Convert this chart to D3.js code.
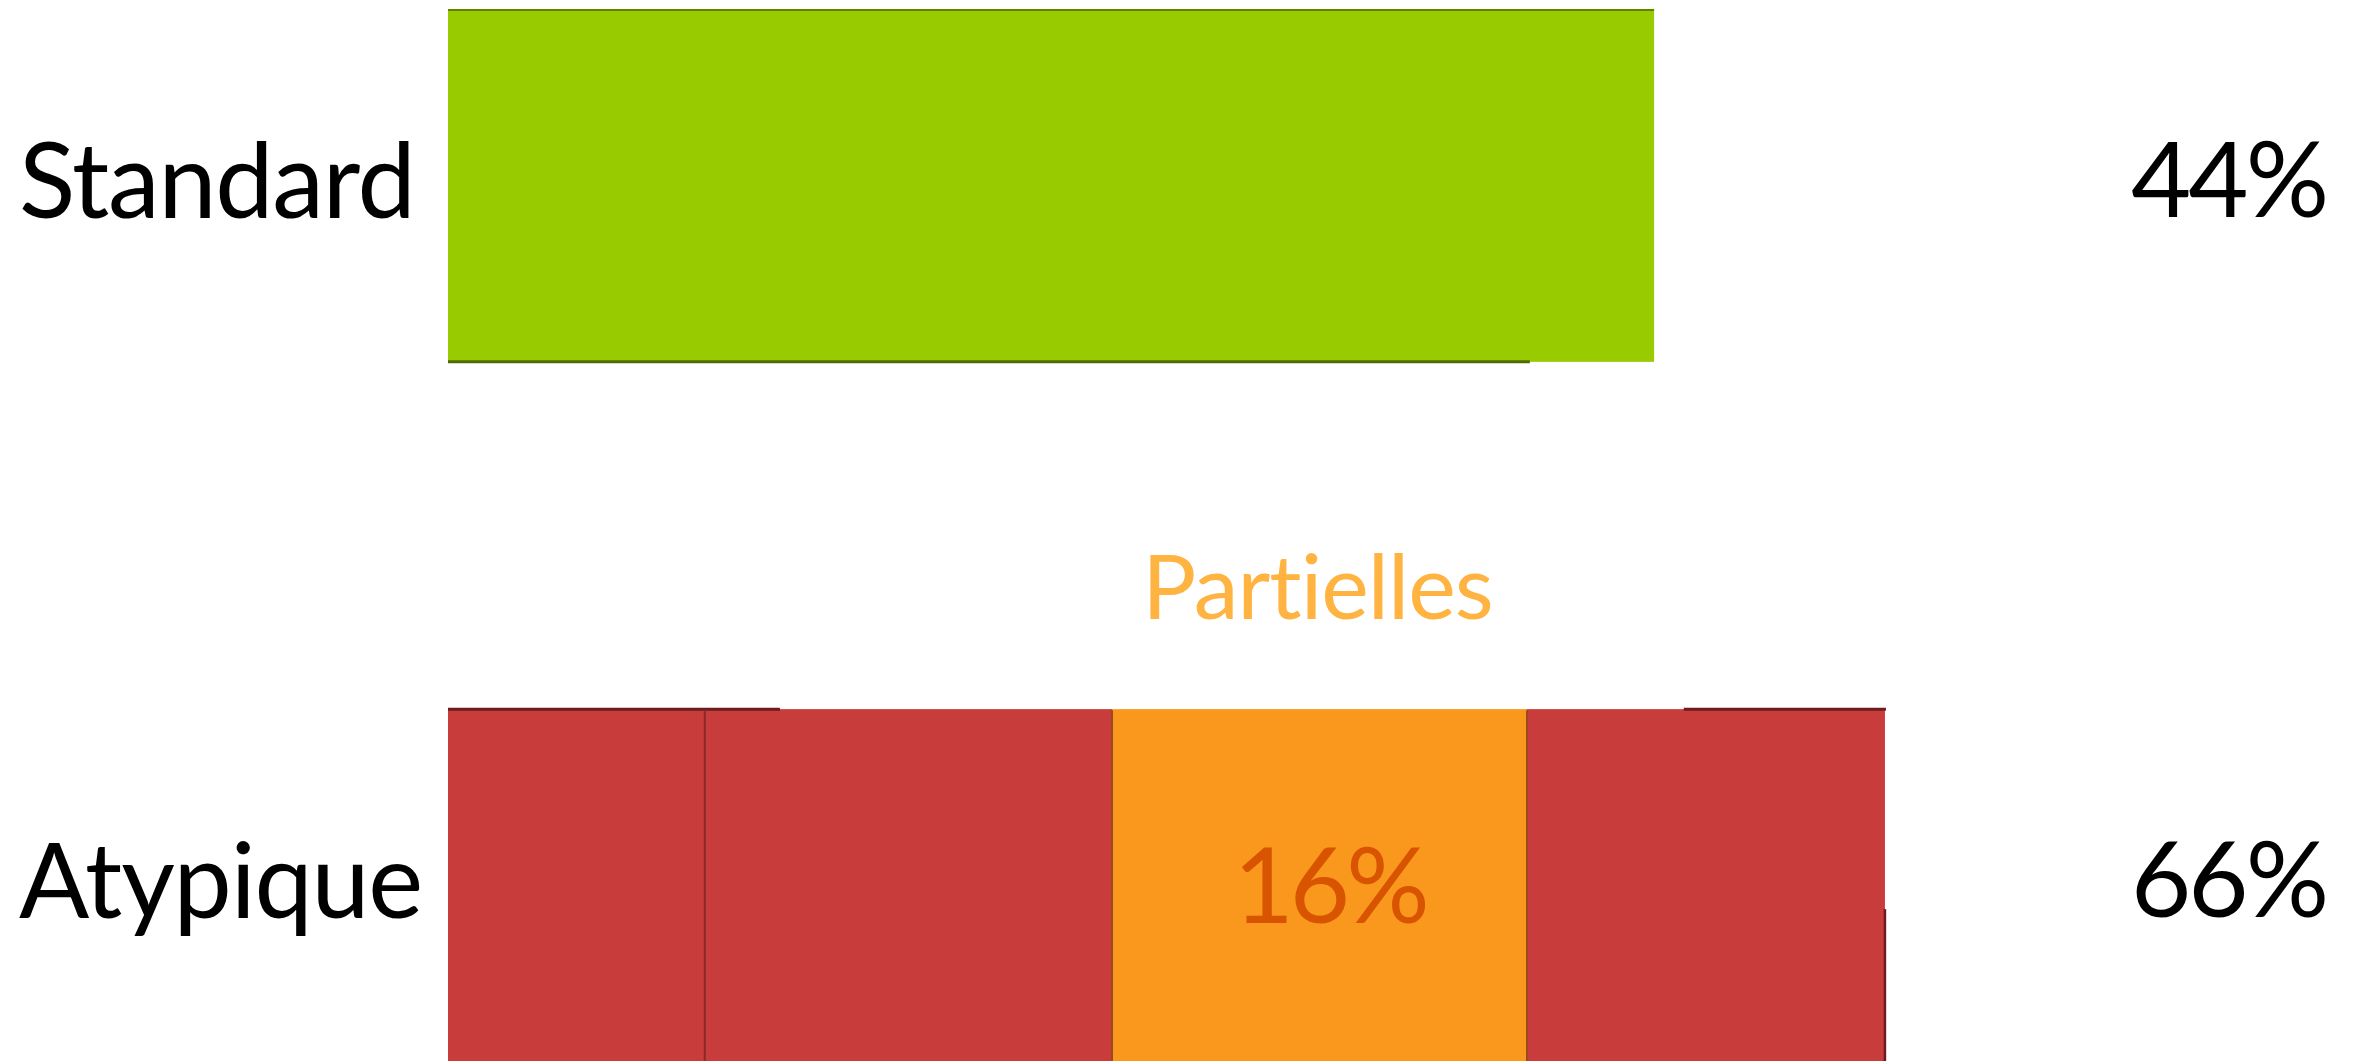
<!DOCTYPE html>
<html>
<head>
<meta charset="utf-8">
<script src="https://cdn.jsdelivr.net/npm/d3@7/dist/d3.min.js"></script>
<style>
  html, body { margin: 0; padding: 0; background: #ffffff; }
  svg { display: block; }
</style>
</head>
<body>
<svg id="chart" width="2355" height="1061"></svg>
<script>
// ---- data ----
const categories = ["Standard", "Atypique"];
const totalLabels = ["44%", "66%"];
// visual bar lengths, in units where the "Partielles" segment = 16
const standardSegments = [46.5];
const atypiqueSegments = [9.9, 15.7, 16, 13.8];
const atypiqueKinds = ["red", "red", "partielles", "red"];
const segmentLabels = ["", "", "16%", ""];
const partiellesLabel = "Partielles";

// ---- layout ----
const W = 2355, H = 1061;
const svg = d3.select("#chart");
const font = "Lato, 'Open Sans', sans-serif";

const x = d3.scaleLinear().domain([0, 16]).range([448, 448 + 415]);
const y = d3.scaleBand().domain(categories).range([9, 1062]).paddingInner(0.496).paddingOuter(0);
const bw = y.bandwidth();

const colors = { green: "#99cc00", red: "#c83c3c", partielles: "#f9981d" };

function stack(values) {
  let acc = 0;
  return values.map((v, i) => { const s = { i, x0: acc, x1: acc + v, v }; acc += v; return s; });
}

// Standard bar
const sSeg = stack(standardSegments);
const gS = svg.append("g");
gS.selectAll("rect").data(sSeg).join("rect")
  .attr("x", d => x(d.x0)).attr("y", y("Standard"))
  .attr("width", d => x(d.x1) - x(d.x0)).attr("height", bw)
  .attr("fill", colors.green);
const sEnd = x(sSeg[sSeg.length - 1].x1);
gS.append("line").attr("x1", x(0)).attr("x2", sEnd)
  .attr("y1", y("Standard") + 1).attr("y2", y("Standard") + 1)
  .attr("stroke", "#4f6b00").attr("stroke-width", 1.6);
gS.append("line").attr("x1", x(0)).attr("x2", x(0) + (sEnd - x(0)) * 0.897)
  .attr("y1", y("Standard") + bw).attr("y2", y("Standard") + bw)
  .attr("stroke", "#526b00").attr("stroke-width", 3);

// Atypique bar
const aSeg = stack(atypiqueSegments);
const ay = y("Atypique");
const gA = svg.append("g");
gA.selectAll("rect").data(aSeg).join("rect")
  .attr("x", d => x(d.x0)).attr("y", ay)
  .attr("width", d => x(d.x1) - x(d.x0)).attr("height", bw)
  .attr("fill", (d, i) => colors[atypiqueKinds[i]]);
const aEnd = x(aSeg[aSeg.length - 1].x1);
gA.append("line").attr("x1", x(0)).attr("x2", x(0) + (aEnd - x(0)) * 0.231)
  .attr("y1", ay).attr("y2", ay).attr("stroke", "#6b1c1c").attr("stroke-width", 3);
gA.append("line").attr("x1", x(0) + (aEnd - x(0)) * 0.86).attr("x2", aEnd + 1)
  .attr("y1", ay).attr("y2", ay).attr("stroke", "#6b1c1c").attr("stroke-width", 3);
gA.append("line").attr("x1", aEnd).attr("x2", aEnd)
  .attr("y1", ay + 200).attr("y2", ay + bw)
  .attr("stroke", "#6b1c1c").attr("stroke-width", 2.5);
gA.selectAll("line.div").data(aSeg.slice(1)).join("line")
  .attr("class", "div")
  .attr("x1", d => x(d.x0)).attr("x2", d => x(d.x0))
  .attr("y1", ay + 1).attr("y2", ay + bw)
  .attr("stroke", d => (atypiqueKinds[d.i] === "partielles" || atypiqueKinds[d.i - 1] === "partielles") ? "#9a4a1c" : "#8a2a2a")
  .attr("stroke-width", 2);

// segment labels
gA.selectAll("text.seg").data(aSeg.filter(d => segmentLabels[d.i])).join("text")
  .attr("class", "seg")
  .attr("x", d => (x(d.x0) + x(d.x1)) / 2 + 10).attr("y", ay + 214)
  .attr("text-anchor", "middle")
  .attr("font-family", font).attr("font-size", 104)
  .attr("letter-spacing", -4)
  .attr("fill", "#d95400")
  .text(d => segmentLabels[d.i]);

// "Partielles" label
const pSeg = aSeg.find(d => atypiqueKinds[d.i] === "partielles");
svg.append("text")
  .attr("x", (x(pSeg.x0) + x(pSeg.x1)) / 2 - 2).attr("y", 619)
  .attr("text-anchor", "middle")
  .attr("font-family", font).attr("font-size", 90)
  .attr("letter-spacing", -1)
  .attr("fill", "#ffb340")
  .text(partiellesLabel);

// category labels
svg.selectAll("text.cat").data(categories).join("text")
  .attr("class", "cat")
  .attr("x", 19).attr("y", d => y(d) + 209)
  .attr("font-family", font).attr("font-size", 104)
  .attr("letter-spacing", -1.2)
  .attr("fill", "#000")
  .text(d => d);

// totals
svg.selectAll("text.tot").data(categories).join("text")
  .attr("class", "tot")
  .attr("x", 2326).attr("y", d => y(d) + 208)
  .attr("text-anchor", "end")
  .attr("font-family", font).attr("font-size", 104)
  .attr("letter-spacing", -3)
  .attr("fill", "#000")
  .text((d, i) => totalLabels[i]);
</script>
</body>
</html>
